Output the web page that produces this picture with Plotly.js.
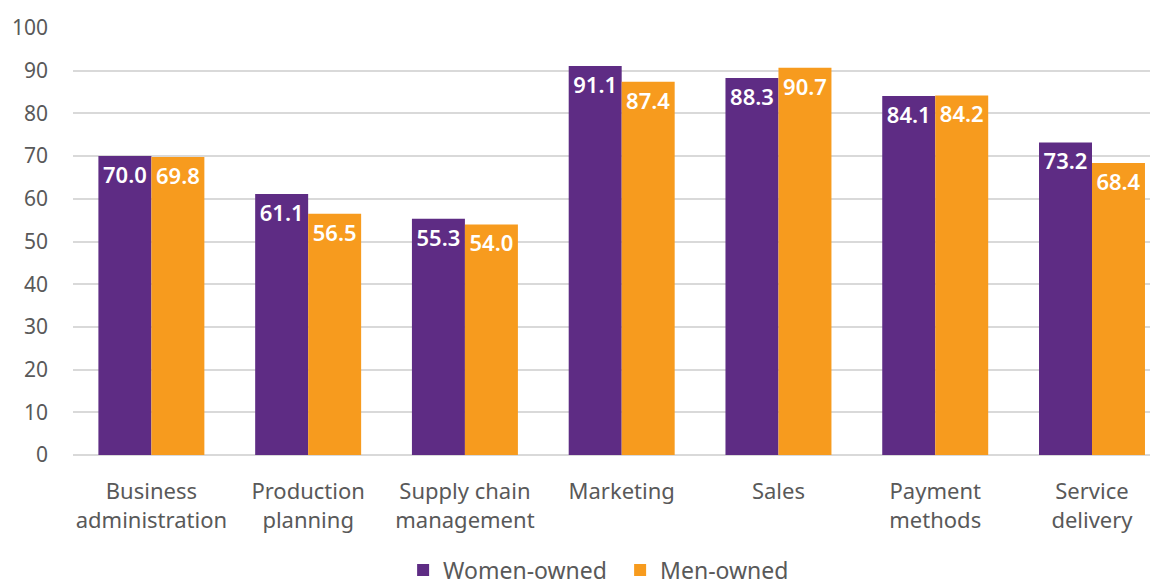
<!DOCTYPE html>
<html>
<head>
<meta charset="utf-8">
<script src="https://cdn.plot.ly/plotly-3.0.1.min.js"></script>
<style>html,body{margin:0;padding:0;background:#fff;}#chart{width:1156px;height:587px;}</style>
</head>
<body>
<div id="chart"></div>
<script>
const categories = ["Business<br>administration", "Production<br>planning", "Supply chain<br>management", "Marketing", "Sales", "Payment<br>methods", "Service<br>delivery"];
const womenOwned = [70.0, 61.1, 55.3, 91.1, 88.3, 84.1, 73.2];
const menOwned = [69.8, 56.5, 54.0, 87.4, 90.7, 84.2, 68.4];
const seriesNames = ["Women-owned", "Men-owned"];
const tickVals = [0, 10, 20, 30, 40, 50, 60, 70, 80, 90, 100];

const FONT = "Noto Sans, Open Sans, sans-serif";
function trace(name, vals, color) {
  return {
    type: "bar", name: name, x: categories, y: vals,
    marker: {color: color},
    text: vals.map(v => v.toFixed(1)),
    textposition: "inside", insidetextanchor: "end", textangle: 0,
    constraintext: "none",
    textfont: {family: FONT, size: 22, color: "#ffffff", weight: 600},
    hoverinfo: "none"
  };
}
const data = [trace(seriesNames[0], womenOwned, "#5E2C84"), trace(seriesNames[1], menOwned, "#F79B1E")];
const layout = {
  width: 1156, height: 587,
  margin: {l: 73, r: 6, t: 28, b: 132, autoexpand: false},
  paper_bgcolor: "#fff", plot_bgcolor: "#fff",
  font: {family: FONT, color: "#595959", size: 20},
  bargap: 0.324, bargroupgap: 0,
  barmode: "group",
  showlegend: true,
  legend: {orientation: "h", x: 0.508, xanchor: "center", y: -0.32, yanchor: "bottom",
           font: {size: 23, color: "#595959"}, itemwidth: 30, traceorder: "normal",
           entrywidth: 172, entrywidthmode: "pixels"},
  xaxis: {type: "category", range: [-0.5, 6.37], showgrid: false, zeroline: false, showline: false,
          ticks: "", ticklabelstandoff: 21, tickfont: {size: 22, color: "#595959"}, automargin: false},
  yaxis: {range: [0, 100], tickvals: tickVals, showgrid: true, gridcolor: "#d9d9d9", gridwidth: 2,
          zeroline: true, zerolinecolor: "#d9d9d9", zerolinewidth: 2, showline: false,
          ticks: "", ticklabelstandoff: 24, tickfont: {size: 21, color: "#595959"}, automargin: false}
};
Plotly.newPlot("chart", data, layout, {displayModeBar: false, staticPlot: true});
</script>
</body>
</html>
